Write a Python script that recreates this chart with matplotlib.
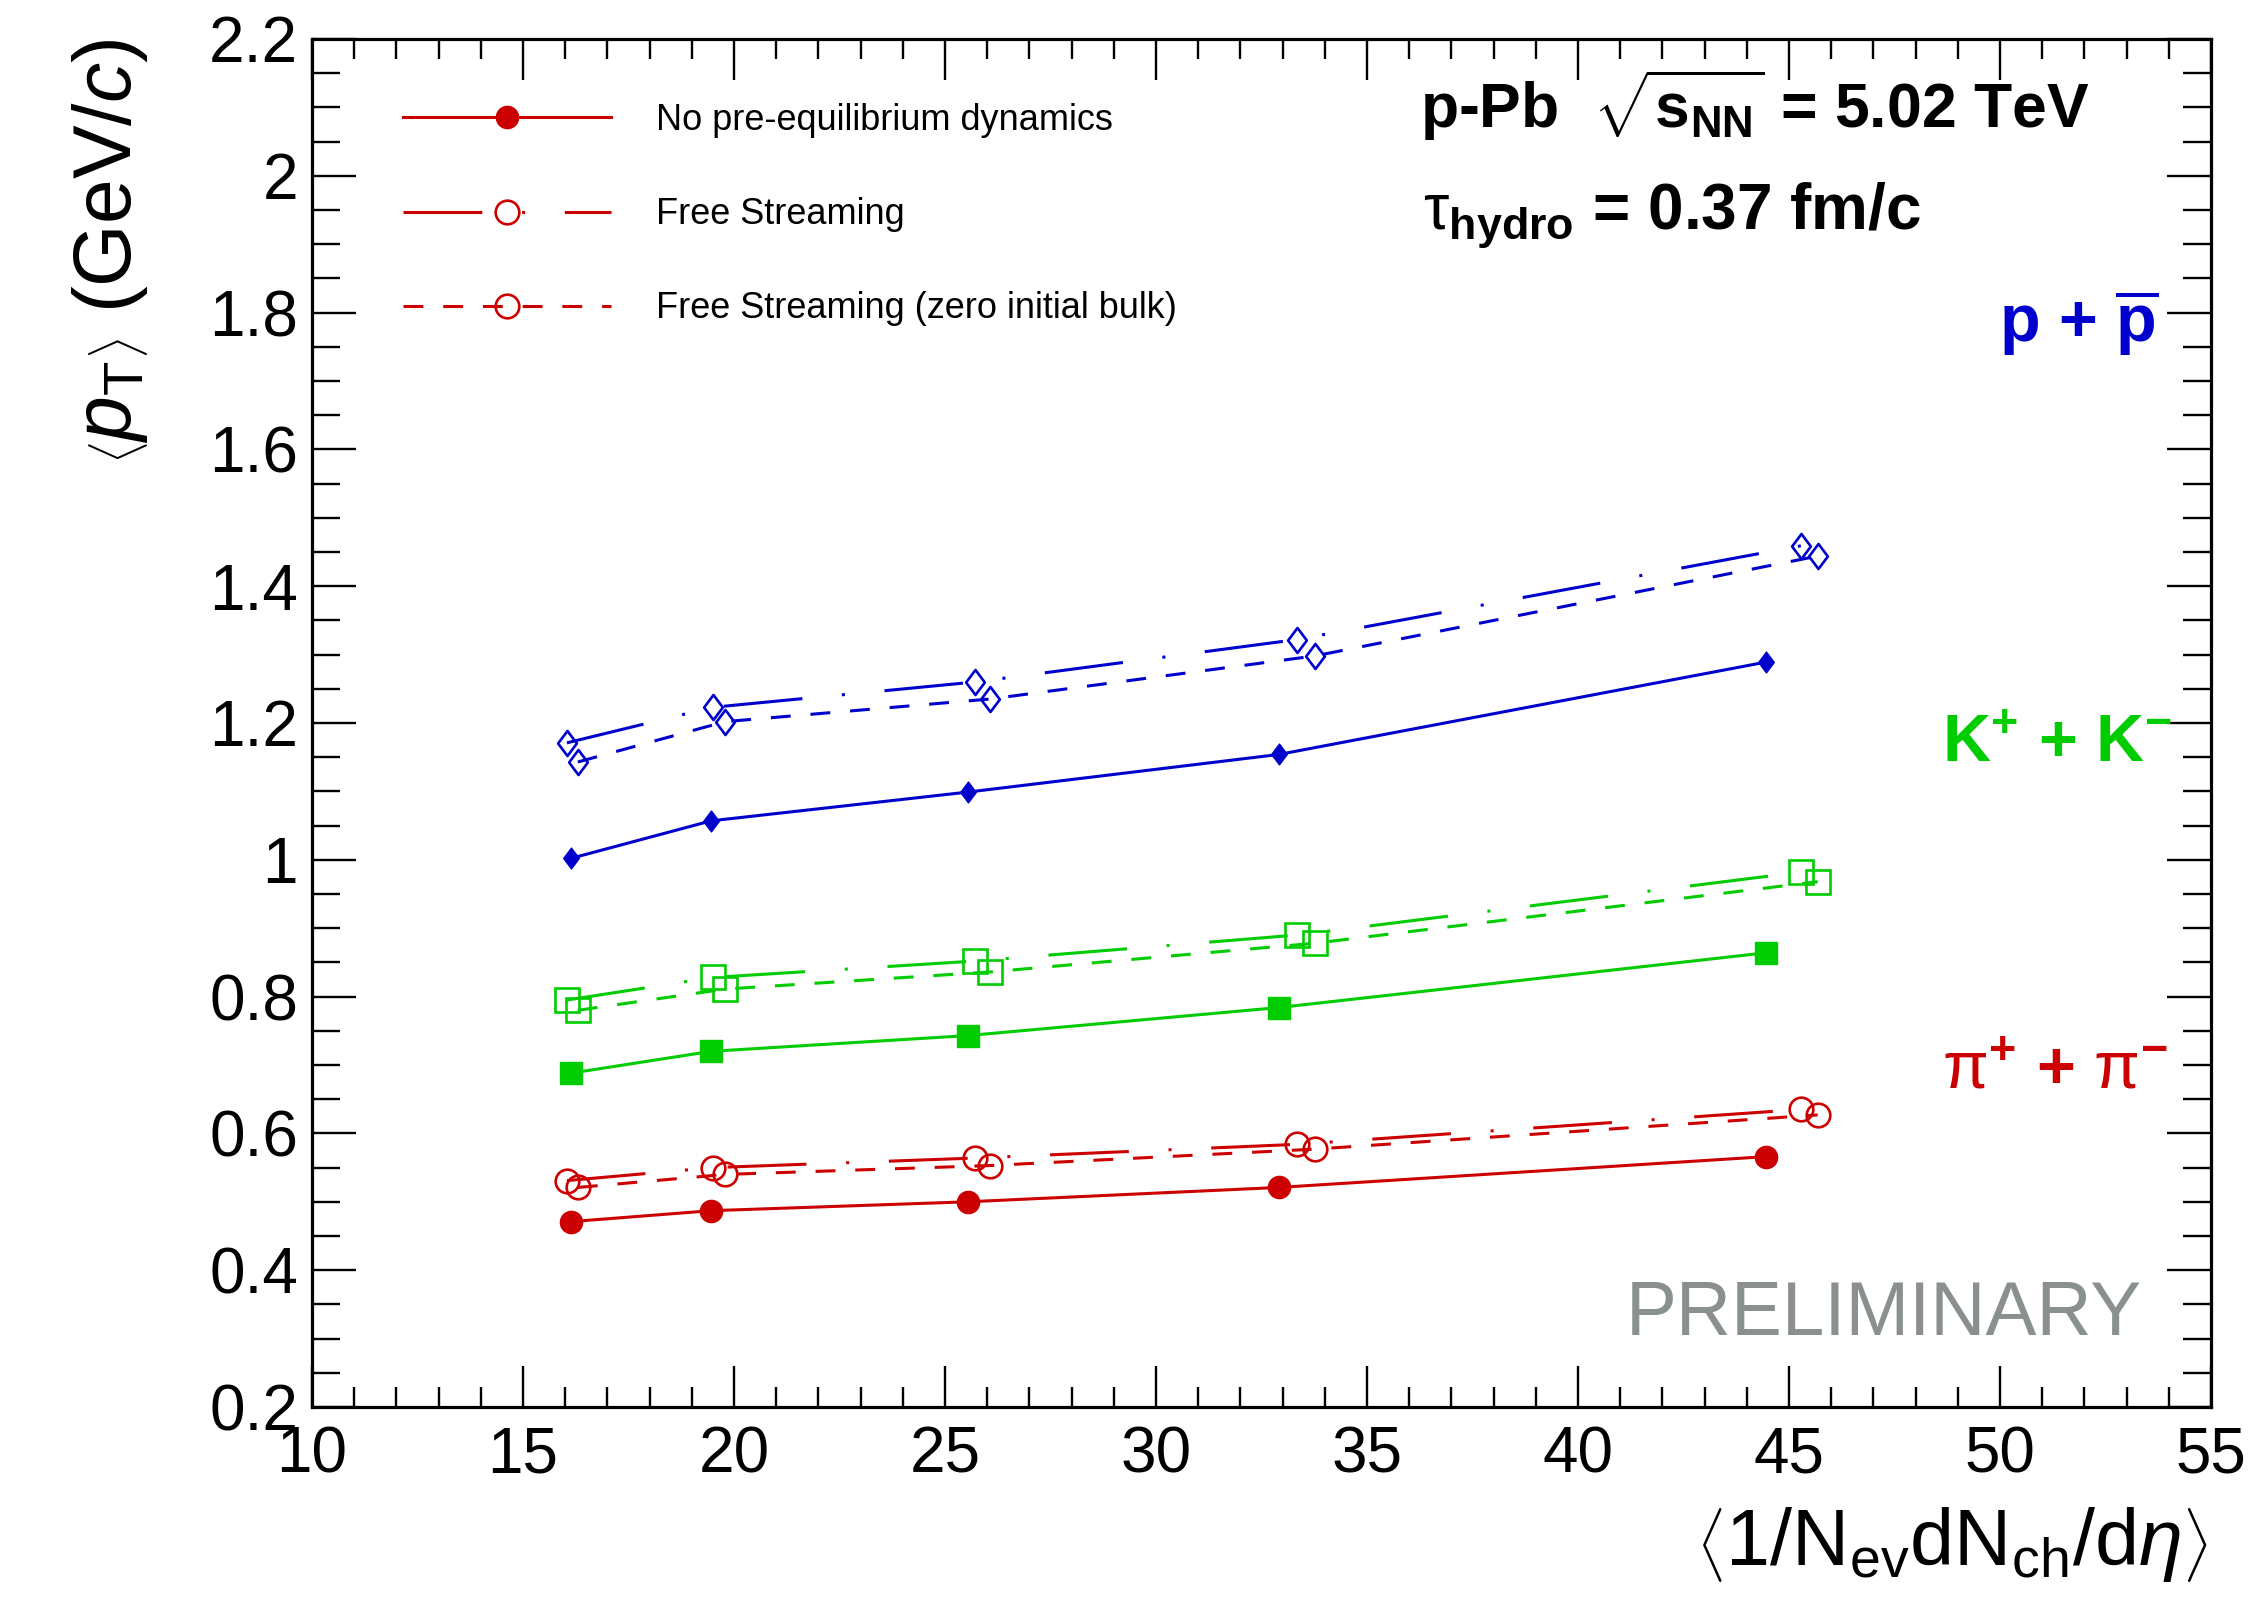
import matplotlib
matplotlib.use("Agg")
import matplotlib.pyplot as plt
from matplotlib.ticker import MultipleLocator, FuncFormatter
from matplotlib.path import Path

plt.rcParams['font.family'] = ['Liberation Sans', 'DejaVu Sans']
plt.rcParams['mathtext.fontset'] = 'custom'
plt.rcParams['mathtext.rm'] = 'Liberation Sans'
plt.rcParams['mathtext.it'] = 'Liberation Sans:italic'
plt.rcParams['mathtext.bf'] = 'Liberation Sans:bold'

# ---------------- data ----------------
x_noeq = [16.13, 19.46, 25.54, 32.91, 44.45]
x_fs = [16.04, 19.50, 25.72, 33.34, 45.28]
x_fszb = [16.30, 19.79, 26.06, 33.76, 45.68]

pion_noeq = [0.471, 0.487, 0.500, 0.521, 0.566]
pion_fs = [0.531, 0.550, 0.564, 0.584, 0.635]
pion_fszb = [0.521, 0.540, 0.553, 0.577, 0.627]

kaon_noeq = [0.688, 0.720, 0.743, 0.784, 0.864]
kaon_fs = [0.795, 0.828, 0.852, 0.890, 0.982]
kaon_fszb = [0.780, 0.811, 0.836, 0.878, 0.968]

proton_noeq = [1.002, 1.057, 1.099, 1.154, 1.289]
proton_fs = [1.171, 1.223, 1.260, 1.322, 1.459]
proton_fszb = [1.143, 1.202, 1.235, 1.298, 1.444]

legend_labels = ["No pre-equilibrium dynamics", "Free Streaming",
                 "Free Streaming (zero initial bulk)"]

RED = '#CC0000'
GREEN = '#00CC00'
BLUE = '#0000CC'

W, H = 2256, 1597
fig = plt.figure(figsize=(W / 100, H / 100), dpi=100)
ax = fig.add_axes([312 / W, 1 - 1407 / H, (2211 - 312) / W, (1407 - 39) / H])

LW = 2.2
FS_STYLE = (0, (25.8, 13, 1, 13))
ZB_STYLE = (0, (6.5, 6.5))

diamond = Path([(0, 1), (0.75, 0), (0, -1), (-0.75, 0), (0, 1)],
               [Path.MOVETO, Path.LINETO, Path.LINETO, Path.LINETO, Path.CLOSEPOLY])

# pions
ax.plot(x_noeq, pion_noeq, color=RED, lw=LW, marker='o', ms=16, mfc=RED, mec=RED,
        label=legend_labels[0])
ax.plot(x_fs, pion_fs, color=RED, lw=LW, ls=FS_STYLE, marker='o', ms=17, mfc='none',
        mec=RED, mew=1.9, label=legend_labels[1])
ax.plot(x_fszb, pion_fszb, color=RED, lw=LW, ls=ZB_STYLE, marker='o', ms=17, mfc='none',
        mec=RED, mew=1.9, label=legend_labels[2])

# kaons
ax.plot(x_noeq, kaon_noeq, color=GREEN, lw=LW, marker='s', ms=16, mfc=GREEN, mec=GREEN)
ax.plot(x_fs, kaon_fs, color=GREEN, lw=LW, ls=FS_STYLE, marker='s', ms=17, mfc='none',
        mec=GREEN, mew=1.9)
ax.plot(x_fszb, kaon_fszb, color=GREEN, lw=LW, ls=ZB_STYLE, marker='s', ms=17, mfc='none',
        mec=GREEN, mew=1.9)

# protons
ax.plot(x_noeq, proton_noeq, color=BLUE, lw=LW, marker=diamond, ms=15, mfc=BLUE, mec=BLUE)
ax.plot(x_fs, proton_fs, color=BLUE, lw=LW, ls=FS_STYLE, marker=diamond, ms=18, mfc='none',
        mec=BLUE, mew=1.9)
ax.plot(x_fszb, proton_fszb, color=BLUE, lw=LW, ls=ZB_STYLE, marker=diamond, ms=18, mfc='none',
        mec=BLUE, mew=1.9)

ax.set_xlim(10, 55)
ax.set_ylim(0.2, 2.2)
ax.xaxis.set_major_locator(MultipleLocator(5))
ax.xaxis.set_minor_locator(MultipleLocator(1))
ax.yaxis.set_major_locator(MultipleLocator(0.2))
ax.yaxis.set_minor_locator(MultipleLocator(0.05))
ax.yaxis.set_major_formatter(FuncFormatter(lambda v, p: '%g' % round(v, 3)))
ax.xaxis.set_major_formatter(FuncFormatter(lambda v, p: '%g' % round(v, 3)))

for s in ax.spines.values():
    s.set_linewidth(2.3)
ax.tick_params(axis='both', which='both', direction='in', top=True, right=True,
               width=1.7, labelsize=46)
ax.tick_params(axis='x', which='major', length=29.5, pad=13)
ax.tick_params(axis='x', which='minor', length=14.4)
ax.tick_params(axis='y', which='major', length=31.7, pad=10)
ax.tick_params(axis='y', which='minor', length=20)

leg = ax.legend(loc='upper left', bbox_to_anchor=(403 / W, 1 - 103 / H),
                bbox_transform=fig.transFigure, frameon=False, fontsize=26,
                handlelength=5.76, handletextpad=1.25, labelspacing=1.64,
                borderpad=0, borderaxespad=0)


def ft(x, y):
    return (x / W, 1 - y / H)


# axis titles
fig.text(*ft(150, 39), r'$\left\langle p_{\mathrm{T}} \right\rangle$ (GeV/$c$)',
         rotation=90, ha='right', va='top', fontsize=58)
fig.text(*ft(2208, 1565),
         r'$\left\langle 1/\mathrm{N}_{\mathrm{ev}}\mathrm{dN}_{\mathrm{ch}}/\mathrm{d}\eta \right\rangle$',
         ha='right', va='baseline', fontsize=57)

# annotations
fig.text(*ft(1420, 128), r'p-Pb  $\sqrt{\mathbf{s}_{\mathbf{NN}}}$ = 5.02 TeV',
         fontsize=45, fontweight='bold', ha='left', va='baseline')
fig.text(*ft(1423, 230), r'$\mathrm{\tau}_{\mathbf{hydro}}$ = 0.37 fm/c',
         fontsize=46, fontweight='bold', ha='left', va='baseline')

fig.text(*ft(1999, 342), r'p + $\overline{\mathbf{p}}$', color=BLUE,
         fontsize=48, fontweight='bold', ha='left', va='baseline')
fig.text(*ft(1942, 762), r'K$^{\mathbf{+}}$ + K$^{\mathbf{-}}$', color=GREEN,
         fontsize=48, fontweight='bold', ha='left', va='baseline')
fig.text(*ft(1942, 1089), r'$\mathrm{\pi}^{\mathbf{+}}$ + $\mathrm{\pi}^{\mathbf{-}}$', color=RED,
         fontsize=48, fontweight='bold', ha='left', va='baseline')
fig.text(*ft(1626, 1335), 'PRELIMINARY', color='#8a8f8f', fontsize=55,
         ha='left', va='baseline')

fig.savefig('out.png', dpi=100)
